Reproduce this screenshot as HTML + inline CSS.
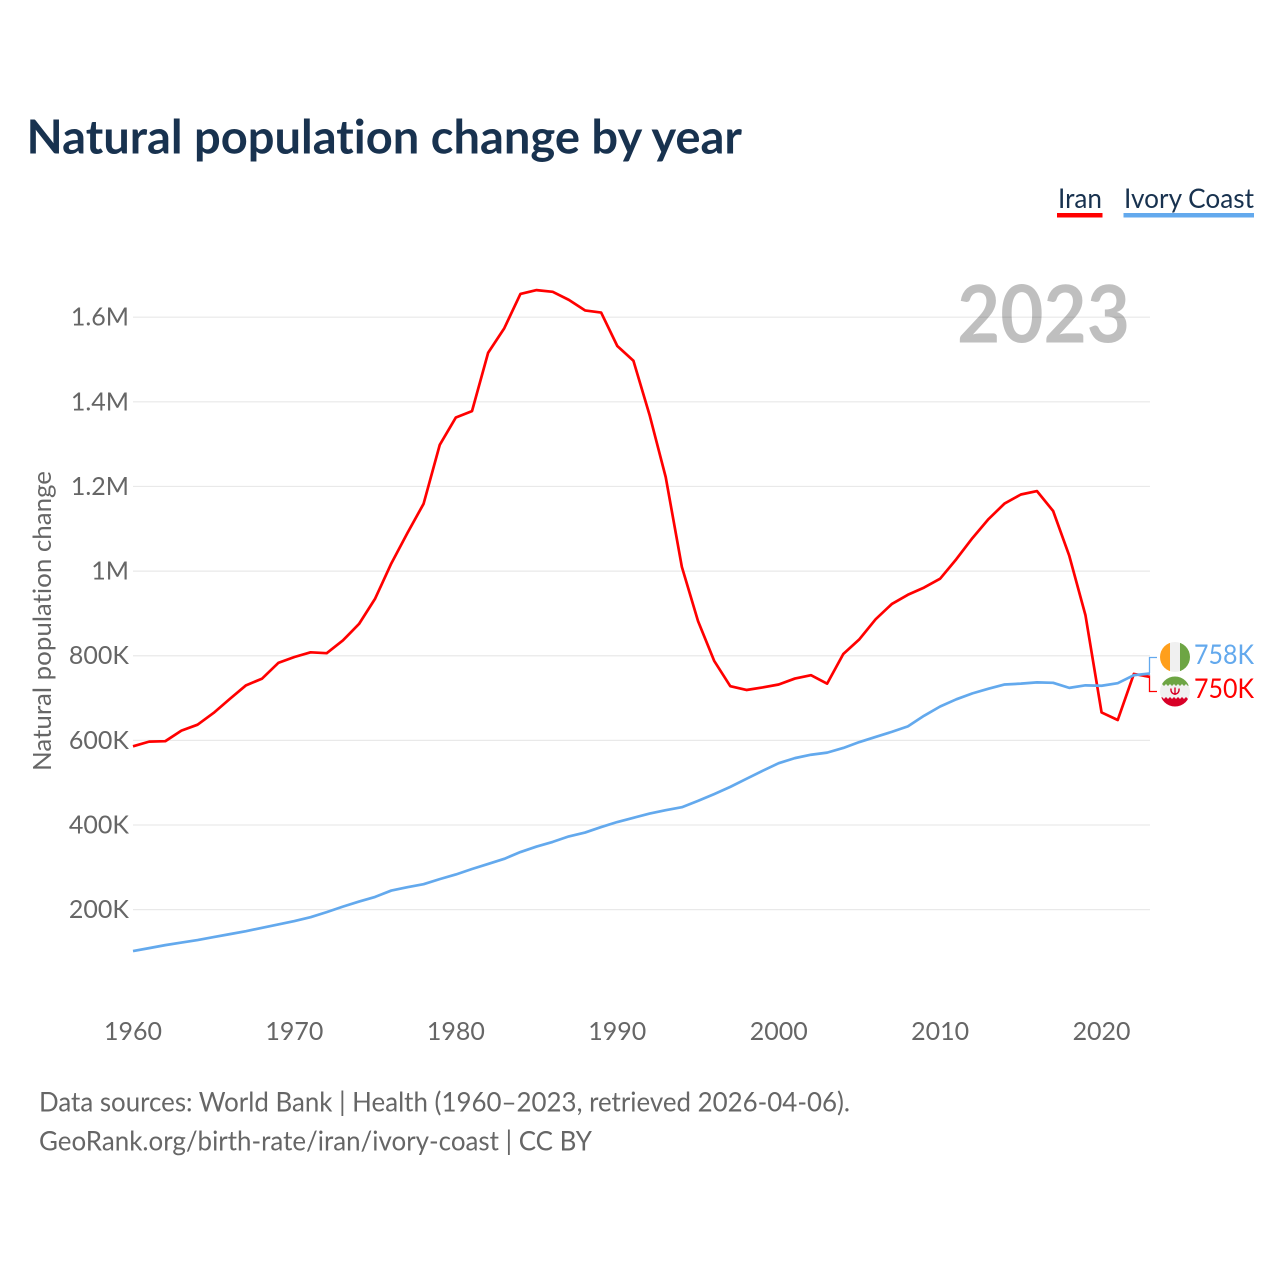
<!DOCTYPE html>
<html lang="en">
<head>
<meta charset="utf-8">
<title>Natural population change by year</title>
<style>
html,body{margin:0;padding:0;background:#fff;}
svg{display:block;}
text{font-family:"Lato","Carlito","Liberation Sans",sans-serif;font-variant-ligatures:none;}
</style>
</head>
<body>
<svg id="chart" xmlns="http://www.w3.org/2000/svg" width="1280" height="1280" viewBox="0 0 1280 1280">
  <rect x="0" y="0" width="1280" height="1280" fill="#ffffff"/>
  <text x="26.5" y="153.5" font-size="47" font-weight="700" fill="#18324f" textLength="715.5" lengthAdjust="spacingAndGlyphs">Natural population change by year</text>

  <g>
    <g>
      <text x="1058" y="208" font-size="27" fill="#18324f" textLength="44" lengthAdjust="spacingAndGlyphs">Iran</text>
      <rect x="1057" y="213" width="45.5" height="4.5" fill="#ff0000"/>
    </g>
    <g>
      <text x="1124" y="208" font-size="27" fill="#18324f" textLength="130" lengthAdjust="spacingAndGlyphs">Ivory Coast</text>
      <rect x="1123.5" y="213" width="130.5" height="4.5" fill="#63a9ed"/>
    </g>
  </g>

  <g id="grid"></g>
  <g id="yticks"></g>
  <g id="xticks"></g>

  <text x="957" y="342.5" font-size="80" font-weight="700" fill="rgba(0,0,0,0.25)" textLength="173" lengthAdjust="spacingAndGlyphs">2023</text>

  <text transform="translate(51,771) rotate(-90)" x="0" y="0" font-size="25" fill="#666666" textLength="300" lengthAdjust="spacingAndGlyphs">Natural population change</text>

  <g id="series"></g>

  <g>
    <path d="M1149.5 673V657.5H1157" fill="none" stroke="#63a9ed" stroke-width="1.3"/>
    <g>
      <clipPath id="clipCi"><circle cx="1175" cy="657" r="15"/></clipPath>
      <g clip-path="url(#clipCi)">
        <rect x="1160" y="642" width="10" height="30" fill="#ff9f1c"/>
        <rect x="1170" y="642" width="10" height="30" fill="#f0f0f0"/>
        <rect x="1180" y="642" width="10" height="30" fill="#6da544"/>
      </g>
    </g>
    <text x="1194" y="664" font-size="27" fill="#63a9ed" textLength="60" lengthAdjust="spacingAndGlyphs">758K</text>
  </g>
  <g>
    <path d="M1149.5 676.5V691.5H1157" fill="none" stroke="#ff0000" stroke-width="1.3"/>
    <g>
      <clipPath id="clipIr"><circle cx="1175" cy="691.5" r="15"/></clipPath>
      <g clip-path="url(#clipIr)">
        <rect x="1160" y="676.5" width="30" height="30" fill="#f0f0f0"/>
        <path d="M1160 676.5H1190V684L1188 686L1186 684L1184 686L1182 684L1180 686L1178 684L1176 686L1174 684L1172 686L1170 684L1168 686L1166 684L1164 686L1162 684L1160 686Z" fill="#6da544"/>
        <path d="M1160 706.5H1190V697L1188 699L1186 697L1184 699L1182 697L1180 699L1178 697L1176 699L1174 697L1172 699L1170 697L1168 699L1166 697L1164 699L1162 697L1160 699Z" fill="#d80027"/>
        <path d="M1171 688.5C1170.5 692 1172.5 694 1175 694C1177.5 694 1179.5 692 1179 688.5M1175 687.5V695" fill="none" stroke="#d80027" stroke-width="1.4"/>
      </g>
    </g>
    <text x="1194" y="698" font-size="27" fill="#ff0000" textLength="60" lengthAdjust="spacingAndGlyphs">750K</text>
  </g>

  <text x="39" y="1111.5" font-size="27" fill="#666666" textLength="811" lengthAdjust="spacingAndGlyphs">Data sources: World Bank | Health (1960–2023, retrieved 2026-04-06).</text>
  <text x="39" y="1150.5" font-size="27" fill="#666666" textLength="553" lengthAdjust="spacingAndGlyphs">GeoRank.org/birth-rate/iran/ivory-coast | CC BY</text>
</svg>
<script>
// Chart data (values in thousands)
const startYear = 1960;
const iranValues = [586,597,598,623,637,665,698,730,746,783,797,808,806,836,875,935,1018,1090,1159,1298,1363,1378,1516,1574,1655,1664,1660,1641,1616,1611,1532,1497,1369,1222,1010,882,788,728,719,725,732,746,754,734,804,839,886,922,944,961,982,1028,1078,1123,1160,1181,1189,1142,1036,896,666,648,757,750];
const ivoryCoastValues = [102,109,116,122,128,135,142,149,157,165,173,182,194,207,219,230,245,253,260,272,283,296,308,320,336,349,360,373,382,395,407,417,427,435,442,457,473,490,509,528,546,558,566,571,582,596,608,620,633,658,680,697,711,722,732,734,737,736,724,730,729,735,754,758];
const yTickValues = [200,400,600,800,1000,1200,1400,1600];
const yTickLabels = ['200K','400K','600K','800K','1M','1.2M','1.4M','1.6M'];
const xTickYears = [1960,1970,1980,1990,2000,2010,2020];

const SVG_NS = 'http://www.w3.org/2000/svg';
const plotLeft = 133, plotRight = 1150;
const lastYear = startYear + iranValues.length - 1;
function xScale(year) {
  return plotLeft + (year - startYear) * (plotRight - plotLeft) / (lastYear - startYear);
}
function yScale(v) {
  return 909.6 - (v - 200) * 0.42314;
}
function linePath(values) {
  return values.map(function (v, i) {
    return (i ? 'L' : 'M') + xScale(startYear + i).toFixed(2) + ' ' + yScale(v).toFixed(2);
  }).join('');
}

const grid = document.getElementById('grid');
const yticks = document.getElementById('yticks');
const xticks = document.getElementById('xticks');
const series = document.getElementById('series');

yTickValues.forEach(function (v, i) {
  const line = document.createElementNS(SVG_NS, 'line');
  
  
  line.setAttribute('x1', plotLeft);
  line.setAttribute('x2', plotRight);
  line.setAttribute('y1', yScale(v));
  line.setAttribute('y2', yScale(v));
  line.setAttribute('stroke', '#e9e9e9');
  line.setAttribute('stroke-width', '1.2');
  grid.appendChild(line);

  const label = document.createElementNS(SVG_NS, 'text');
  
  
  label.setAttribute('x', 129);
  label.setAttribute('y', yScale(v) + 8.5);
  label.setAttribute('text-anchor', 'end');
  label.setAttribute('font-size', '25');
  label.setAttribute('fill', '#666666');
  label.textContent = yTickLabels[i];
  yticks.appendChild(label);
});

xTickYears.forEach(function (year) {
  const label = document.createElementNS(SVG_NS, 'text');
  
  
  label.setAttribute('x', xScale(year));
  label.setAttribute('y', 1040);
  label.setAttribute('text-anchor', 'middle');
  label.setAttribute('font-size', '25.5');
  label.setAttribute('fill', '#666666');
  label.setAttribute('textLength', '58');
  label.setAttribute('lengthAdjust', 'spacingAndGlyphs');
  label.textContent = String(year);
  xticks.appendChild(label);
});

const iranLine = document.createElementNS(SVG_NS, 'path');


iranLine.setAttribute('d', linePath(iranValues));
iranLine.setAttribute('fill', 'none');
iranLine.setAttribute('stroke', '#ff0000');
iranLine.setAttribute('stroke-width', '2.7');
iranLine.setAttribute('stroke-linejoin', 'round');
series.appendChild(iranLine);

const ivoryLine = document.createElementNS(SVG_NS, 'path');


ivoryLine.setAttribute('d', linePath(ivoryCoastValues));
ivoryLine.setAttribute('fill', 'none');
ivoryLine.setAttribute('stroke', '#63a9ed');
ivoryLine.setAttribute('stroke-width', '2.7');
ivoryLine.setAttribute('stroke-linejoin', 'round');
series.appendChild(ivoryLine);
</script>
</body>
</html>
